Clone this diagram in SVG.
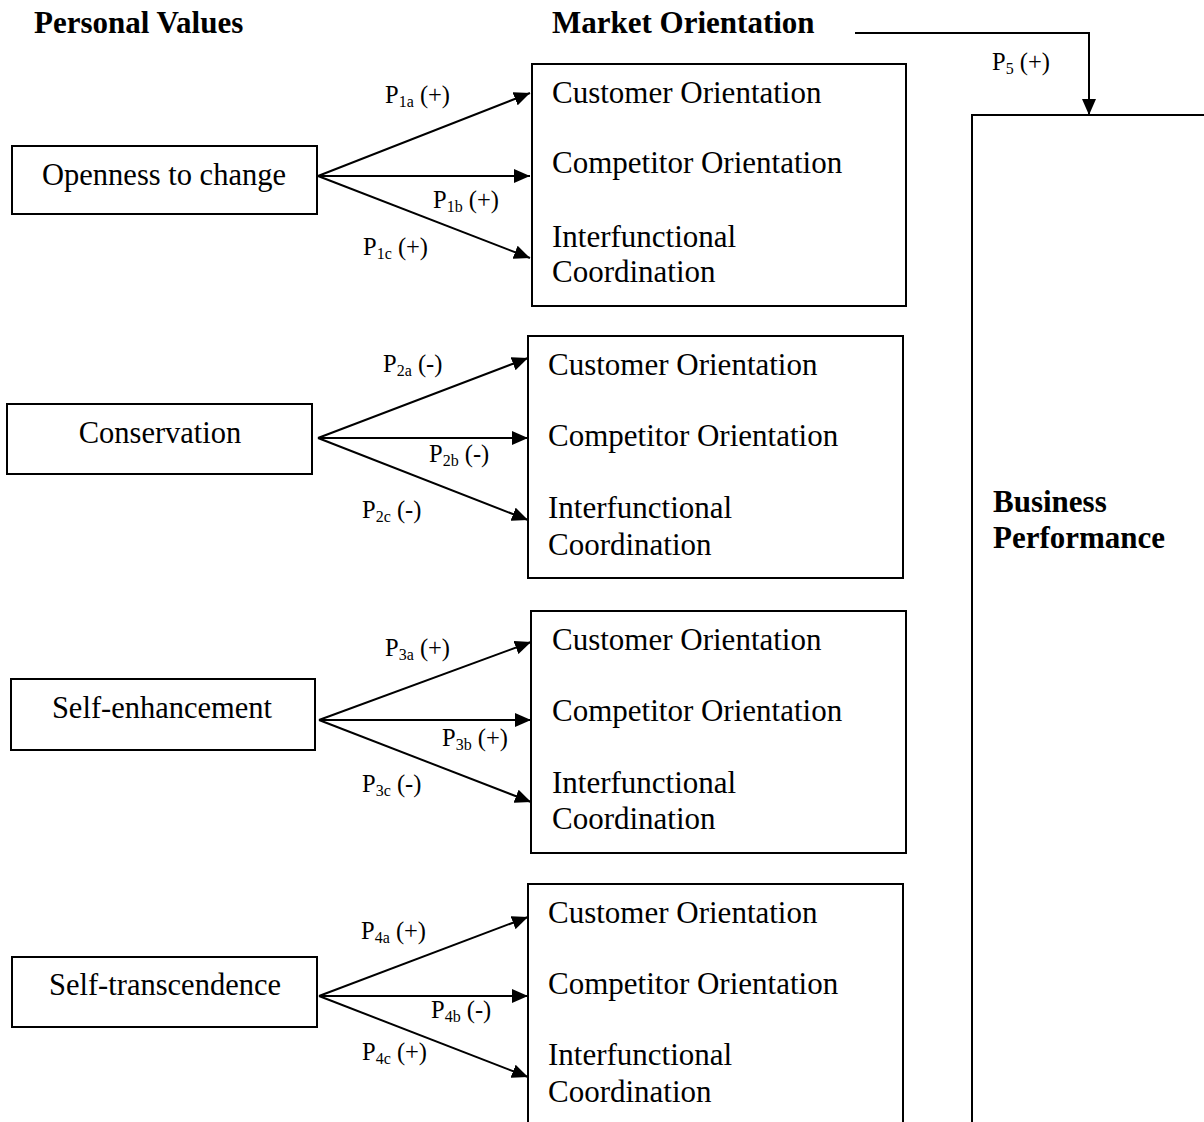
<svg xmlns="http://www.w3.org/2000/svg" width="1204" height="1122" viewBox="0 0 1204 1122">
<defs>
<marker id="ah" markerUnits="userSpaceOnUse" markerWidth="17" markerHeight="14" refX="16" refY="7" orient="auto">
<path d="M0,0 L16,7 L0,14 Z" fill="#000"/>
</marker>
<style>
.box{fill:#fff;stroke:#000;stroke-width:2}
.t{font-family:"Liberation Serif","Times New Roman",serif;font-size:31px;fill:#000}
.t2{font-family:"Liberation Serif","Times New Roman",serif;font-size:30.5px;fill:#000}
.b{font-family:"Liberation Serif","Times New Roman",serif;font-size:31px;font-weight:bold;fill:#000}
.l{font-family:"Liberation Serif","Times New Roman",serif;font-size:24.5px;fill:#000}
.s{font-size:16px}
.c{fill:none;stroke:#000;stroke-width:2}
</style>
</defs>
<rect width="1204" height="1122" fill="#fff"/>

<g id="headings">
<text class="b" x="34" y="33">Personal Values</text>
<text class="b" x="552" y="33">Market Orientation</text>
</g>

<g id="business-performance">
<path class="c" d="M972,1124 V115 H1206"/>
<text class="b" x="993" y="512">Business</text>
<text class="b" x="993" y="548">Performance</text>
</g>

<g id="openness">
<rect class="box" x="12" y="146" width="305" height="68"/>
<text class="t2" x="164" y="185" text-anchor="middle">Openness to change</text>
</g>
<g id="conservation">
<rect class="box" x="7" y="404" width="305" height="70"/>
<text class="t2" x="160" y="443" text-anchor="middle">Conservation</text>
</g>
<g id="self-enhancement">
<rect class="box" x="11" y="679" width="304" height="71"/>
<text class="t2" x="162" y="718" text-anchor="middle">Self-enhancement</text>
</g>
<g id="self-transcendence">
<rect class="box" x="12" y="957" width="305" height="70"/>
<text class="t2" x="165" y="995" text-anchor="middle">Self-transcendence</text>
</g>

<g id="mo1">
<rect class="box" x="532" y="64" width="374" height="242"/>
<text class="t" x="552" y="103">Customer Orientation</text>
<text class="t" x="552" y="173">Competitor Orientation</text>
<text class="t" x="552" y="247">Interfunctional</text>
<text class="t" x="552" y="282">Coordination</text>
</g>
<g id="mo2">
<rect class="box" x="528" y="336" width="375" height="242"/>
<text class="t" x="548" y="375">Customer Orientation</text>
<text class="t" x="548" y="446">Competitor Orientation</text>
<text class="t" x="548" y="518">Interfunctional</text>
<text class="t" x="548" y="555">Coordination</text>
</g>
<g id="mo3">
<rect class="box" x="531" y="611" width="375" height="242"/>
<text class="t" x="552" y="650">Customer Orientation</text>
<text class="t" x="552" y="721">Competitor Orientation</text>
<text class="t" x="552" y="793">Interfunctional</text>
<text class="t" x="552" y="829">Coordination</text>
</g>
<g id="mo4">
<path class="c" d="M528,1124 V884 H903 V1124"/>
<text class="t" x="548" y="923">Customer Orientation</text>
<text class="t" x="548" y="994">Competitor Orientation</text>
<text class="t" x="548" y="1065">Interfunctional</text>
<text class="t" x="548" y="1102">Coordination</text>
</g>

<g id="connectors">
<path class="c" d="M855,33 H1089 V115" marker-end="url(#ah)"/>
<line class="c" x1="318" y1="176" x2="530" y2="93" marker-end="url(#ah)"/>
<line class="c" x1="318" y1="176" x2="530" y2="176" marker-end="url(#ah)"/>
<line class="c" x1="318" y1="176" x2="530" y2="258" marker-end="url(#ah)"/>
<line class="c" x1="318" y1="438" x2="528" y2="358" marker-end="url(#ah)"/>
<line class="c" x1="318" y1="438" x2="528" y2="438" marker-end="url(#ah)"/>
<line class="c" x1="318" y1="438" x2="528" y2="520" marker-end="url(#ah)"/>
<line class="c" x1="319" y1="720" x2="531" y2="642" marker-end="url(#ah)"/>
<line class="c" x1="319" y1="720" x2="531" y2="720" marker-end="url(#ah)"/>
<line class="c" x1="319" y1="720" x2="531" y2="802" marker-end="url(#ah)"/>
<line class="c" x1="319" y1="996" x2="528" y2="917" marker-end="url(#ah)"/>
<line class="c" x1="319" y1="996" x2="528" y2="996" marker-end="url(#ah)"/>
<line class="c" x1="319" y1="996" x2="528" y2="1077" marker-end="url(#ah)"/>
</g>

<g id="labels">
<text class="l" x="992" y="70">P<tspan class="s" dy="4">5</tspan><tspan dy="-4"> (+)</tspan></text>
<text class="l" x="385" y="103">P<tspan class="s" dy="4">1a</tspan><tspan dy="-4"> (+)</tspan></text>
<text class="l" x="433" y="208">P<tspan class="s" dy="4">1b</tspan><tspan dy="-4"> (+)</tspan></text>
<text class="l" x="363" y="255">P<tspan class="s" dy="4">1c</tspan><tspan dy="-4"> (+)</tspan></text>
<text class="l" x="383" y="372">P<tspan class="s" dy="4">2a</tspan><tspan dy="-4"> (-)</tspan></text>
<text class="l" x="429" y="462">P<tspan class="s" dy="4">2b</tspan><tspan dy="-4"> (-)</tspan></text>
<text class="l" x="362" y="518">P<tspan class="s" dy="4">2c</tspan><tspan dy="-4"> (-)</tspan></text>
<text class="l" x="385" y="656">P<tspan class="s" dy="4">3a</tspan><tspan dy="-4"> (+)</tspan></text>
<text class="l" x="442" y="746">P<tspan class="s" dy="4">3b</tspan><tspan dy="-4"> (+)</tspan></text>
<text class="l" x="362" y="792">P<tspan class="s" dy="4">3c</tspan><tspan dy="-4"> (-)</tspan></text>
<text class="l" x="361" y="939">P<tspan class="s" dy="4">4a</tspan><tspan dy="-4"> (+)</tspan></text>
<text class="l" x="431" y="1018">P<tspan class="s" dy="4">4b</tspan><tspan dy="-4"> (-)</tspan></text>
<text class="l" x="362" y="1060">P<tspan class="s" dy="4">4c</tspan><tspan dy="-4"> (+)</tspan></text>
</g>
</svg>
